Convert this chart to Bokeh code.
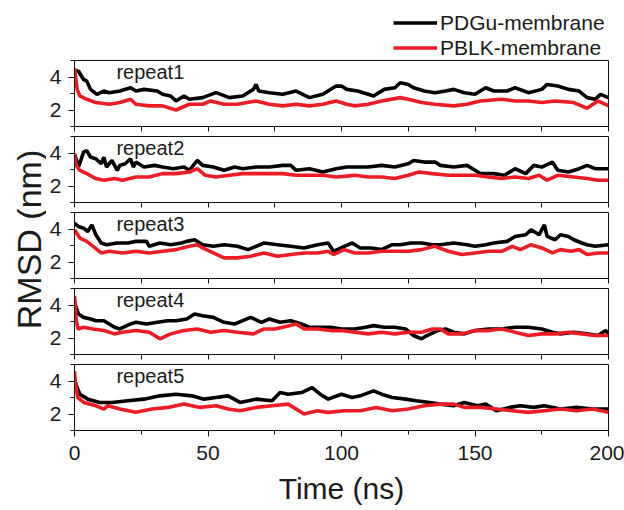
import math
from bokeh.plotting import figure
from bokeh.models import Range1d, FixedTicker, Label, Legend, LegendItem
from bokeh.layouts import column, row
from bokeh.embed import file_html
from bokeh.resources import INLINE

FONT = "Liberation Sans"
BLACK = "#000000"
RED = "#ED1C24"
TXT = "#1a1a1a"

# ---- data: (time ns, RMSD nm) ----
pdgu1 = [(0, 4.4), (1.5, 4.35), (3.4, 3.85), (4.6, 3.75), (6, 3.25), (8.4, 2.95), (11, 3.15), (13, 3.05), (17, 3.15), (21, 3.35),
         (23, 3.15), (26, 3.25), (31, 3.15), (33, 2.95), (36, 2.85), (38, 2.55), (41, 2.85), (43, 2.65), (48, 2.75), (53, 3.05),
         (58, 2.75), (63, 2.85), (67, 3.25), (68, 3.55), (69, 3.15), (73, 3.05), (78, 2.95), (83, 3.15), (88, 2.75), (93, 2.95),
         (98, 3.45), (100, 3.45), (102, 3.25), (106, 3.15), (110, 2.95), (112, 2.85), (116, 3.25), (120, 3.35), (122, 3.65), (125, 3.55),
         (127, 3.35), (131, 3.15), (135, 3.05), (139, 3.15), (142, 3.25), (146, 3.05), (150, 2.95), (154, 3.35), (157, 3.15), (162, 3.15),
         (165, 3.35), (170, 3.05), (175, 3.25), (177, 3.55), (181, 3.45), (185, 3.25), (189, 3.15), (192, 2.75), (195, 2.65), (197, 2.95),
         (200, 2.75)]
pblk1 = [(0, 4.55), (1, 3.25), (2, 2.85), (4.6, 2.65), (8, 2.45), (13, 2.35), (17, 2.45), (21, 2.65), (23, 2.35), (28, 2.25),
         (33, 2.25), (38, 2.0), (43, 2.35), (48, 2.35), (51, 2.55), (56, 2.35), (61, 2.35), (68, 2.55), (73, 2.35), (78, 2.25),
         (83, 2.35), (88, 2.25), (93, 2.35), (98, 2.55), (102, 2.35), (105, 2.25), (110, 2.35), (115, 2.55), (122, 2.75), (125, 2.65),
         (130, 2.45), (135, 2.35), (142, 2.25), (147, 2.35), (152, 2.55), (160, 2.65), (165, 2.55), (170, 2.55), (175, 2.45), (180, 2.55),
         (187, 2.45), (192, 2.1), (196, 2.55), (200, 2.25)]

pdgu2 = [(0, 3.95), (1.5, 3.15), (3.4, 4.05), (4.6, 4.15), (6, 3.75), (8, 3.65), (10, 3.35), (11, 3.75), (12, 3.15), (14, 3.55),
         (16, 2.95), (17, 3.25), (19, 3.35), (21, 3.65), (22, 3.15), (23, 3.45), (26, 3.15), (30, 3.25), (33, 3.15), (37, 3.05),
         (41, 3.15), (43, 2.95), (46, 3.55), (48, 3.25), (52, 3.15), (56, 2.95), (60, 3.15), (63, 3.05), (68, 3.15), (73, 3.15),
         (78, 3.25), (81, 3.25), (83, 2.95), (88, 3.05), (93, 2.85), (98, 3.05), (102, 3.15), (105, 3.15), (110, 3.15), (115, 3.25),
         (120, 3.15), (125, 3.35), (127, 3.55), (131, 3.45), (135, 3.45), (137, 3.25), (142, 3.15), (147, 3.25), (150, 2.95), (152, 2.75),
         (157, 2.75), (161, 2.65), (165, 3.05), (169, 2.75), (172, 3.25), (175, 3.15), (179, 3.45), (181, 2.95), (185, 2.85), (189, 3.05),
         (192, 3.25), (195, 3.05), (200, 3.05)]
pblk2 = [(0, 3.95), (0.6, 3.25), (2, 2.95), (4.6, 2.75), (8, 2.45), (11, 2.35), (15, 2.45), (18, 2.35), (23, 2.55), (28, 2.55),
         (33, 2.75), (38, 2.75), (43, 2.85), (46, 3.05), (49, 2.65), (53, 2.55), (58, 2.65), (63, 2.75), (68, 2.75), (73, 2.75),
         (78, 2.75), (83, 2.65), (88, 2.65), (93, 2.65), (98, 2.55), (102, 2.6), (105, 2.65), (110, 2.55), (115, 2.55), (120, 2.45),
         (125, 2.65), (129, 2.85), (134, 2.75), (140, 2.65), (145, 2.65), (150, 2.65), (155, 2.55), (160, 2.45), (165, 2.55), (170, 2.45),
         (174, 2.65), (177, 2.35), (181, 2.65), (187, 2.55), (192, 2.45), (196, 2.35), (200, 2.35)]

pdgu3 = [(0, 4.35), (1.5, 4.15), (3.4, 4.05), (5, 3.85), (6.5, 4.25), (8, 3.65), (10, 3.15), (12, 3.05), (16, 3.15), (20, 3.15),
         (23, 3.25), (27, 3.25), (28, 2.95), (32, 3.15), (36, 3.05), (40, 3.15), (42, 3.25), (45, 3.35), (48, 3.05), (52, 2.95),
         (56, 3.05), (61, 2.95), (65, 2.75), (68, 2.95), (71, 3.15), (76, 3.05), (81, 2.95), (86, 2.85), (91, 3.05), (95, 3.15),
         (97, 2.65), (101, 2.95), (104, 3.15), (107, 2.85), (111, 2.85), (115, 2.75), (119, 3.05), (122, 3.05), (126, 3.15), (130, 3.15),
         (134, 3.05), (137, 3.05), (142, 3.15), (147, 3.05), (150, 2.95), (154, 3.05), (157, 3.15), (162, 3.25), (165, 3.55), (169, 3.65),
         (171, 3.95), (174, 3.65), (176, 4.25), (177, 3.55), (180, 3.35), (182, 3.65), (185, 3.55), (187, 3.35), (190, 3.15), (192, 3.05),
         (195, 2.95), (200, 3.05)]
pblk3 = [(0, 3.95), (2, 3.45), (4.6, 3.25), (7, 2.95), (10, 2.55), (13, 2.65), (18, 2.55), (23, 2.65), (28, 2.55), (33, 2.65),
         (38, 2.75), (43, 2.95), (46, 3.05), (48, 2.85), (52, 2.55), (56, 2.25), (61, 2.25), (66, 2.35), (71, 2.55), (76, 2.35),
         (81, 2.45), (86, 2.55), (91, 2.55), (95, 2.65), (97, 2.45), (101, 2.75), (105, 2.55), (110, 2.55), (115, 2.65), (120, 2.65),
         (125, 2.65), (130, 2.75), (135, 2.95), (140, 2.65), (145, 2.45), (150, 2.55), (155, 2.65), (160, 2.65), (164, 2.95), (167, 2.75),
         (171, 3.05), (175, 2.85), (179, 2.55), (182, 2.75), (186, 2.65), (189, 2.75), (192, 2.45), (196, 2.55), (200, 2.55)]

pdgu4 = [(0, 4.15), (1.5, 3.45), (3.4, 3.25), (6, 3.15), (8, 3.05), (11, 3.05), (15, 2.65), (17, 2.55), (21, 2.85), (23, 2.95),
         (27, 2.85), (31, 2.95), (35, 3.05), (38, 3.05), (42, 3.15), (45, 3.45), (48, 3.35), (52, 3.25), (56, 2.95), (60, 2.85),
         (63, 3.05), (66, 3.25), (70, 2.95), (73, 3.15), (77, 2.95), (81, 3.05), (85, 2.85), (88, 2.65), (92, 2.65), (96, 2.65),
         (100, 2.55), (105, 2.55), (109, 2.65), (112, 2.75), (116, 2.65), (120, 2.65), (124, 2.55), (127, 2.15), (130, 1.95), (132, 2.15),
         (136, 2.45), (139, 2.55), (142, 2.35), (146, 2.25), (150, 2.45), (155, 2.55), (160, 2.55), (165, 2.65), (170, 2.65), (175, 2.55),
         (179, 2.35), (182, 2.25), (187, 2.35), (192, 2.25), (196, 2.15), (199, 2.45), (200, 2.25)]
pblk4 = [(0, 4.55), (0.6, 3.15), (1.3, 2.55), (3.4, 2.65), (7, 2.55), (11, 2.45), (15, 2.25), (18, 2.35), (23, 2.45), (28, 2.35),
         (32, 1.95), (36, 2.25), (41, 2.45), (46, 2.55), (51, 2.35), (56, 2.45), (61, 2.35), (67, 2.25), (71, 2.55), (75, 2.55),
         (78, 2.65), (83, 2.85), (86, 2.55), (91, 2.55), (96, 2.45), (100, 2.45), (105, 2.35), (110, 2.25), (115, 2.35), (120, 2.25),
         (125, 2.35), (130, 2.35), (134, 2.55), (137, 2.55), (140, 2.25), (145, 2.25), (150, 2.45), (155, 2.45), (160, 2.55), (165, 2.35),
         (170, 2.15), (175, 2.25), (180, 2.25), (185, 2.35), (190, 2.25), (195, 2.15), (200, 2.15)]

pdgu5 = [(0, 4.1), (0.75, 3.7), (2, 3.2), (5, 2.9), (9.5, 2.7), (14, 2.7), (20, 2.8), (26, 2.9), (32, 3.1), (38, 3.2),
         (44, 3.1), (48.5, 2.9), (53, 3.0), (57.5, 3.1), (62, 2.7), (68, 2.9), (74, 2.8), (77, 3.3), (80, 3.2), (85, 3.3),
         (89, 3.6), (92, 3.2), (95, 2.9), (100, 3.2), (104, 3.0), (107, 3.1), (112, 3.4), (115, 3.2), (119, 3.0), (124, 2.9),
         (128, 2.8), (133, 2.7), (137, 2.6), (142, 2.5), (146, 2.7), (151, 2.5), (154, 2.6), (158, 2.2), (163, 2.4), (167, 2.5),
         (172, 2.4), (176, 2.5), (182, 2.3), (188, 2.4), (194, 2.3), (200, 2.3)]
pblk5 = [(0, 4.6), (0.3, 3.9), (1.2, 3.0), (3.5, 2.7), (8, 2.5), (11, 2.3), (12.5, 2.5), (17, 2.3), (23, 2.1), (29, 2.3),
         (35, 2.4), (41, 2.6), (47, 2.4), (53, 2.5), (57.5, 2.3), (62, 2.2), (68, 2.4), (74, 2.5), (80, 2.6), (86, 2.0),
         (91, 2.2), (95, 2.1), (101, 2.2), (107, 2.2), (113, 2.4), (119, 2.2), (125, 2.3), (131, 2.5), (137, 2.6), (142, 2.6),
         (146, 2.4), (152, 2.4), (158, 2.3), (164, 2.2), (170, 2.1), (176, 2.2), (182, 2.3), (188, 2.2), (194, 2.3), (200, 2.1)]

panel_labels = ["repeat1", "repeat2", "repeat3", "repeat4", "repeat5"]
series_names = ["PDGu-membrane", "PBLK-membrane"]
series_colors = [BLACK, RED]
x_major = [0, 50, 100, 150, 200]
x_minor = [25, 75, 125, 175]
y_major = [2, 4]
y_minor = [1, 3, 5]

panels_data = [(pdgu1, pblk1), (pdgu2, pblk2), (pdgu3, pblk3), (pdgu4, pblk4), (pdgu5, pblk5)]

LABEL_W = 46          # strip holding the y-axis title
HEADER_H = 58         # strip holding the legend
FRAME_H = 66
LEFT = 28
RIGHT = 16
COL_W = LEFT + 534 + RIGHT
LINE_W = 3.6


def bare_figure(w, h, xr, yr):
    f = figure(width=w, height=h, x_range=xr, y_range=yr,
               x_axis_type=None, y_axis_type=None,
               output_backend="svg", toolbar_location=None,
               min_border=0, min_border_left=0, min_border_right=0,
               min_border_top=0, min_border_bottom=0)
    f.outline_line_color = None
    f.xgrid.visible = False
    f.ygrid.visible = False
    f.background_fill_color = "white"
    f.border_fill_color = "white"
    return f


# ---- legend strip (its frame is aligned with the panel frames by the column) ----
header = bare_figure(COL_W, HEADER_H, Range1d(0, 200), Range1d(10, 11))
items = []
for name, col, series in zip(series_names, series_colors, panels_data[0]):
    st, sv = zip(*series)
    # the series lie outside this strip's y range, so only the legend swatch shows
    r = header.line(list(st), list(sv), line_color=col, line_width=LINE_W)
    items.append(LegendItem(label=name, renderers=[r]))
legend = Legend(items=items, location=(393 - (LABEL_W + LEFT), -2), orientation="vertical",
                border_line_color=None, background_fill_alpha=0,
                padding=0, margin=0, spacing=0,
                glyph_width=44, glyph_height=25, label_height=25,
                label_standoff=3, label_text_font=FONT,
                label_text_font_size="21px", label_text_color=TXT,
                label_text_baseline="middle")
header.add_layout(legend)

# ---- panels ----
figs = [header]
for i, (blk, red) in enumerate(panels_data):
    last = i == len(panels_data) - 1
    top = 2
    bottom = 78 if last else 8
    p = figure(width=COL_W, height=top + FRAME_H + bottom,
               x_range=Range1d(0, 200), y_range=Range1d(1, 5),
               output_backend="svg", toolbar_location=None,
               min_border_left=LEFT, min_border_right=RIGHT,
               min_border_top=top, min_border_bottom=bottom)
    p.xgrid.visible = False
    p.ygrid.visible = False
    p.outline_line_color = "#111111"
    p.outline_line_width = 1
    p.background_fill_color = "white"
    p.border_fill_color = "white"

    bt, bv = zip(*blk)
    rt, rv = zip(*red)
    p.line(list(bt), list(bv), line_color=BLACK, line_width=LINE_W)
    p.line(list(rt), list(rv), line_color=RED, line_width=LINE_W)

    for ax in (p.xaxis[0], p.yaxis[0]):
        ax.axis_line_color = "#111111"
        ax.major_tick_line_color = "#111111"
        ax.minor_tick_line_color = "#111111"
        ax.major_tick_in = 0
        ax.minor_tick_in = 0
        ax.major_label_text_font = FONT
        ax.major_label_text_font_size = "21px"
        ax.major_label_text_color = TXT
    p.yaxis.ticker = FixedTicker(ticks=y_major, minor_ticks=y_minor)
    p.yaxis.major_tick_out = 6
    p.yaxis.minor_tick_out = 4
    p.yaxis.major_label_standoff = 7

    if last:
        p.xaxis.ticker = FixedTicker(ticks=x_major, minor_ticks=x_minor)
        p.xaxis.major_tick_out = 6
        p.xaxis.minor_tick_out = 4
        p.xaxis.major_label_standoff = 9
        p.xaxis.axis_label = "Time (ns)"
        p.xaxis.axis_label_text_font = FONT
        p.xaxis.axis_label_text_font_size = "30px"
        p.xaxis.axis_label_text_font_style = "normal"
        p.xaxis.axis_label_text_color = TXT
        p.xaxis.axis_label_standoff = 9
    else:
        p.xaxis.ticker = FixedTicker(ticks=[], minor_ticks=x_major + x_minor)
        p.xaxis.minor_tick_out = 5
        p.xaxis.major_label_standoff = 0

    p.add_layout(Label(x=15.7, y=4.3, text=panel_labels[i], text_baseline="middle",
                       text_align="left", text_font=FONT, text_font_size="20px",
                       text_color=TXT))
    figs.append(p)

col = column(*figs, spacing=0)
total_h = HEADER_H + 4 * (2 + FRAME_H + 8) + (2 + FRAME_H + 78)

# ---- y-axis title strip ----
ylab = bare_figure(LABEL_W, total_h, Range1d(0, 1), Range1d(0, 1))
ylab.add_layout(Label(x=28, y=total_h - 239, x_units="screen", y_units="screen",
                      text="RMSD (nm)", angle=math.pi / 2,
                      text_align="center", text_baseline="middle",
                      text_font=FONT, text_font_size="34px", text_color=TXT))

layout = row(ylab, col, spacing=0)
open("out.html", "w").write(file_html(layout, INLINE))
